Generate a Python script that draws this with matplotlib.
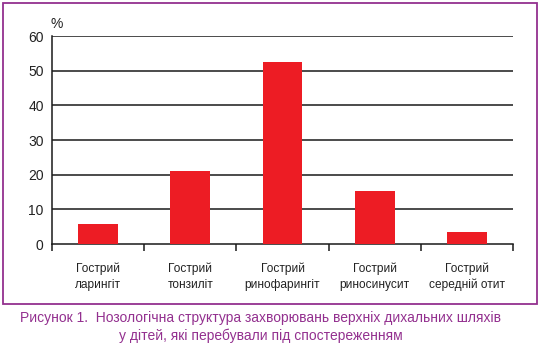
import matplotlib
matplotlib.use("Agg")
from matplotlib import pyplot as plt
from matplotlib.patches import Rectangle
import numpy as np

categories = ["Гострий\nларингіт", "Гострий\nтонзиліт", "Гострий\nринофарингіт",
              "Гострий\nриносинусит", "Гострий\nсередній отит"]
values = [5.8, 21.0, 52.5, 15.3, 3.5]
yticks = [0, 10, 20, 30, 40, 50, 60]

narrow = ["Liberation Sans", "DejaVu Sans"]
purple = "#93308f"

fig = plt.figure(figsize=(5.43, 3.5), dpi=100)
ax = fig.add_axes([52/543, 1-244/350, (513-52)/543, (244-36)/350])

x = np.arange(len(values))
ax.bar(x, values, width=0.43, color="#ed1c24", zorder=3)

ax.set_xlim(-0.5, len(values)-0.5)
ax.set_ylim(0, 60)
ax.set_yticks(yticks)
ax.set_yticklabels([str(v) for v in yticks], family=narrow, fontsize=10, color="#222222")
ax.tick_params(axis="y", length=0, pad=6)
for v in yticks[1:]:
    ax.axhline(v, color="#1a1a1a", lw=1.1, zorder=1)

# ticks on category boundaries, labels centred under bars
ax.set_xticks(np.arange(-0.5, len(values)), minor=False)
ax.set_xticklabels([])
ax.set_xticks(x, minor=True)
ax.set_xticklabels(categories, minor=True, family=narrow, fontsize=8.6, color="#222222",
                   linespacing=1.45)
ax.tick_params(axis="x", which="major", length=5, width=1.1, color="#1a1a1a", direction="out")
ax.tick_params(axis="x", which="minor", length=0, pad=13)

for s in ["top", "right"]:
    ax.spines[s].set_visible(False)
ax.spines["left"].set_linewidth(1.1)
ax.spines["bottom"].set_linewidth(1.1)
ax.spines["left"].set_color("#1a1a1a")
ax.spines["bottom"].set_color("#1a1a1a")

ax.text(-0.52, 61.5, "%", family=narrow, fontsize=10, color="#222222",
        ha="left", va="bottom", transform=ax.transData)

# frame around the chart
fig.patches.append(Rectangle((3/543, 1-304/350), (537-3)/543, (304-3)/350,
                             transform=fig.transFigure, fill=False,
                             edgecolor=purple, lw=1.3))

fig.text(261/543, 1-318/350, "Рисунок 1.  Нозологічна структура захворювань верхніх дихальних шляхів",
         ha="center", va="center", family=narrow, fontsize=10, color=purple)
fig.text(261/543, 1-336/350, "у дітей, які перебували під спостереженням",
         ha="center", va="center", family=narrow, fontsize=10, color=purple)

fig.savefig("out.png", dpi=100)
